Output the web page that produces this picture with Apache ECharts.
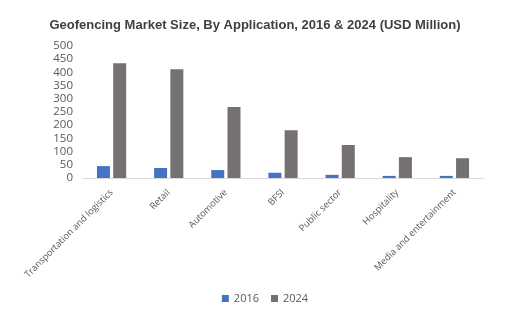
<!DOCTYPE html>
<html><head><meta charset="utf-8">
<script src="https://cdn.jsdelivr.net/npm/echarts@6/dist/echarts.min.js"></script>
<style>html,body{margin:0;padding:0;background:#fff}#c{width:530px;height:332px}</style>
</head><body><div id="c"></div>
<script>
var categories = ["Transportation and logistics","Retail","Automotive","BFSI","Public sector","Hospitality","Media and entertainment"];
var values2016 = [45, 38, 30, 20, 12, 8, 8];
var values2024 = [435, 412, 269, 181, 125, 79, 75];
var yTicks = [0, 500, 50];

var chart = echarts.init(document.getElementById('c'), null, {renderer:'canvas'});
chart.setOption({
  animation:false,
  backgroundColor:'#fff',
  title:{text:'Geofencing Market Size, By Application, 2016 & 2024 (USD Million)',left:250,top:14,textAlign:'center',
    textStyle:{fontFamily:'Liberation Sans',fontSize:13,fontWeight:'bold',color:'#404040'}},
  legend:{bottom:23,left:'center',itemWidth:7,itemHeight:7,itemGap:12,icon:'rect',
    textStyle:{fontFamily:'Open Sans',fontSize:11,color:'#595959'},data:['2016','2024']},
  grid:{left:83,right:47,top:46,bottom:154},
  xAxis:{type:'category',data:categories,
    axisLine:{lineStyle:{color:'#d9d9d9'}},axisTick:{show:false},
    axisLabel:{rotate:45,interval:0,fontFamily:'Open Sans',fontSize:9.3,color:'#595959',margin:13}},
  yAxis:{type:'value',min:yTicks[0],max:yTicks[1],interval:yTicks[2],
    splitLine:{show:false},axisLine:{show:false},axisTick:{show:false},
    axisLabel:{fontFamily:'Open Sans',fontSize:11.5,color:'#595959',margin:10}},
  series:[
    {name:'2016',type:'bar',data:values2016,itemStyle:{color:'#4472C4'},barWidth:13,barGap:'25%'},
    {name:'2024',type:'bar',data:values2024,itemStyle:{color:'#767171'},barWidth:13}
  ]
});
</script></body></html>
